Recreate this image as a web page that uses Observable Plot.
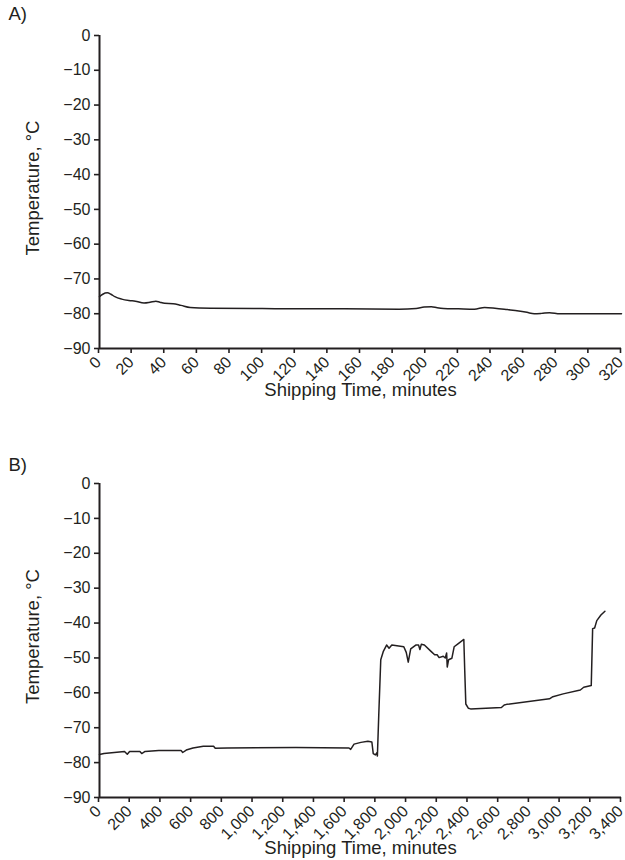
<!DOCTYPE html>
<html>
<head>
<meta charset="utf-8">
<script src="https://cdn.jsdelivr.net/npm/d3@7"></script>
<script src="https://cdn.jsdelivr.net/npm/@observablehq/plot@0.6"></script>
<style>
  html, body { margin: 0; padding: 0; background: #fff; }
  #wrap { position: relative; width: 625px; height: 860px; font-family: "Liberation Sans", Arial, sans-serif; color: #231f20; }
  .svgbox { position: absolute; left: 0; }
</style>
</head>
<body>
<div id="wrap">
  <div class="svgbox" id="pa" style="top:0px"></div>
  <div class="svgbox" id="pb" style="top:448px"></div>
</div>
<script>
// Panel A: shipping time (minutes) and temperature (°C)
const timeA = [0, 2, 4.8, 7, 9.4, 13.6, 18, 22, 27.3, 31, 34.6, 37, 39.9, 45.1, 50, 55.6, 68.2, 99.7, 120.7, 150, 183.6, 194.1, 199, 203.5, 207, 210.9, 220, 229.8, 236.1, 242.4, 250, 257, 262, 266.5, 271, 275.9, 282.2, 320];
const tempA = [-75.1, -74.4, -74.0, -74.4, -75.1, -75.8, -76.2, -76.4, -76.9, -76.7, -76.4, -76.7, -77.0, -77.1, -77.6, -78.2, -78.4, -78.5, -78.6, -78.6, -78.7, -78.5, -78.1, -78.0, -78.3, -78.5, -78.6, -78.7, -78.2, -78.4, -78.8, -79.2, -79.6, -80.0, -79.9, -79.7, -80.0, -80.0];

// Panel B
const timeB = [0, 29, 163, 181, 196, 263, 275, 297, 386, 531, 542, 565, 609, 676, 743, 754, 833, 1279, 1625, 1636, 1658, 1703, 1748, 1774, 1783, 1797, 1806, 1810, 1819, 1832, 1848, 1870, 1886, 1904, 1982, 1998, 2011, 2027, 2060, 2078, 2087, 2096, 2116, 2161, 2183, 2199, 2212, 2239, 2252, 2261, 2265, 2274, 2295, 2310, 2339, 2373, 2379, 2386, 2402, 2417, 2618, 2636, 2652, 2931, 2953, 3020, 3132, 3154, 3203, 3212, 3225, 3239, 3266, 3292];
const tempB = [-77.7, -77.4, -76.8, -77.6, -76.8, -76.8, -77.4, -76.8, -76.5, -76.5, -77.1, -76.4, -75.8, -75.3, -75.3, -75.9, -75.8, -75.7, -75.8, -76.2, -74.7, -74.2, -73.9, -74.1, -77.4, -77.8, -77.2, -78.1, -66.3, -50.5, -48.2, -46.3, -47.2, -46.3, -46.8, -48.4, -51.2, -47.4, -46.3, -46.3, -47.6, -46.1, -46.3, -48.2, -49.1, -49.1, -49.9, -49.5, -50.0, -48.6, -52.6, -50.5, -50.1, -46.8, -45.8, -44.7, -53.7, -63.2, -64.4, -64.6, -64.2, -63.5, -63.3, -61.7, -61.1, -60.3, -59.2, -58.4, -57.9, -41.6, -41.4, -39.3, -37.7, -36.6];

const yTicks = [0, -10, -20, -30, -40, -50, -60, -70, -80, -90];
const xTicksA = [0, 20, 40, 60, 80, 100, 120, 140, 160, 180, 200, 220, 240, 260, 280, 300, 320];
const xTicksB = [0, 200, 400, 600, 800, 1000, 1200, 1400, 1600, 1800, 2000, 2200, 2400, 2600, 2800, 3000, 3200, 3400];

const xTitle = "Shipping Time, minutes";
const yTitle = "Temperature, °C";
const panelNames = ["A)", "B)"];

const ink = "#231f20";
const font = "'Liberation Sans', Arial, sans-serif";

function panel(name, times, temps, xTicks, xMax, height, marginBottom, titleDy, nameDy, smooth) {
  const data = times.map((t, i) => ({t, v: temps[i]}));
  return Plot.plot({
    width: 625,
    height,
    marginTop: 35,
    marginLeft: 99,
    marginRight: 4,
    marginBottom,
    style: {fontFamily: font, fontSize: "16px", color: ink, background: "#fff", overflow: "visible"},
    x: {domain: [0, xMax]},
    y: {domain: [-90, 0]},
    marks: [
      Plot.axisY({ticks: yTicks, tickSize: 5, tickPadding: 4, tickFormat: d3.format(""), label: null, stroke: ink, strokeWidth: 1.6, fill: ink}),
      Plot.axisX({ticks: xTicks, tickSize: 5, tickPadding: 6, dx: -1, tickRotate: -45, tickFormat: d3.format(","), label: null, stroke: ink, strokeWidth: 1.6, fill: ink}),
      Plot.ruleX([0], {stroke: ink, strokeWidth: 2}),
      Plot.ruleY([-90], {stroke: ink, strokeWidth: 2}),
      Plot.line(data, {x: "t", y: "v", stroke: ink, strokeWidth: 1.5, curve: smooth ? "monotone-x" : "linear"}),
      Plot.text([xTitle], {frameAnchor: "bottom", dy: titleDy, textAnchor: "middle", lineAnchor: "middle", fontSize: 18.5, fill: ink}),
      Plot.text([yTitle], {frameAnchor: "left", dx: -66, dy: -4, rotate: -90, textAnchor: "middle", lineAnchor: "middle", fontSize: 18.5, fill: ink}),
      Plot.text([name], {frameAnchor: "top-left", dx: -91, dy: nameDy, textAnchor: "start", lineAnchor: "middle", fontSize: 18.5, fill: ink})
    ]
  });
}

document.getElementById("pa").appendChild(panel(panelNames[0], timeA, tempA, xTicksA, 320, 420, 72, 42, -21, true));
document.getElementById("pb").appendChild(panel(panelNames[1], timeB, tempB, xTicksB, 3400, 412, 63, 51, -18, false));
</script>
</body>
</html>
